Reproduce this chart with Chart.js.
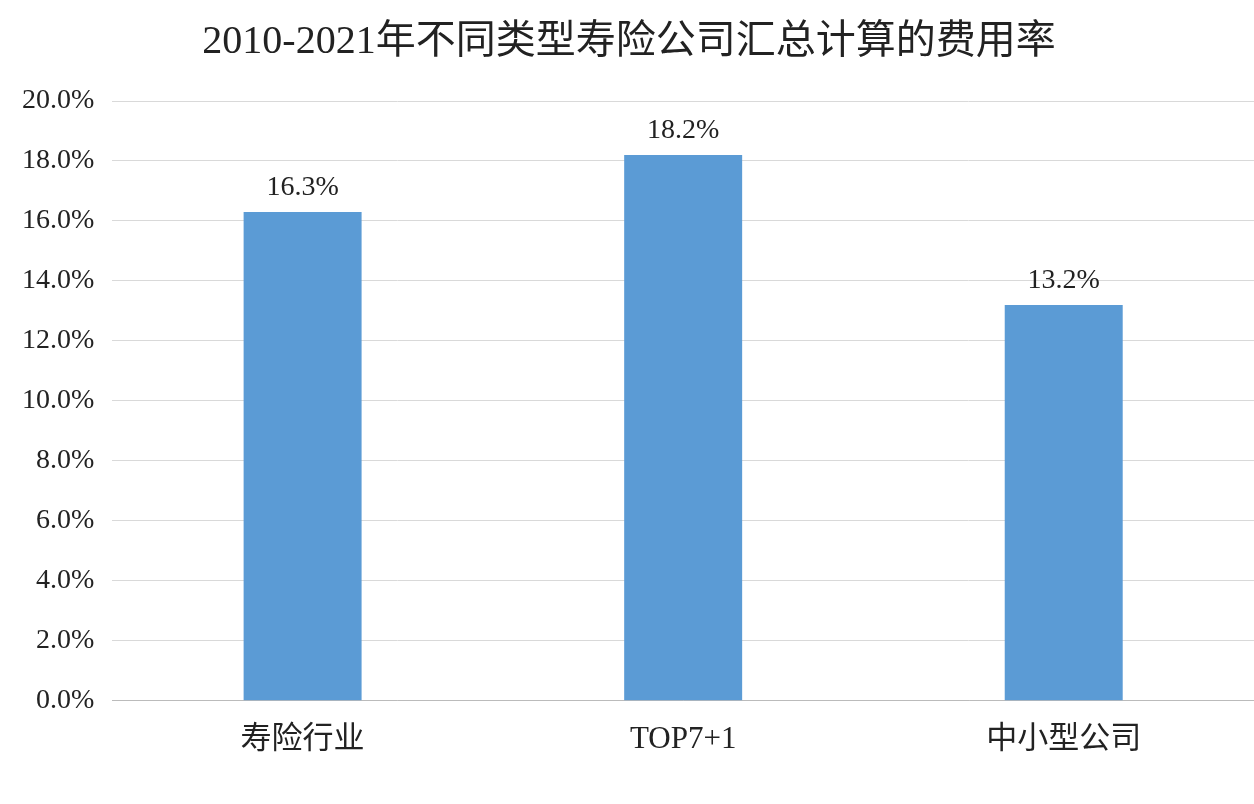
<!DOCTYPE html>
<html>
<head>
<meta charset="utf-8">
<script src="https://cdn.jsdelivr.net/npm/chart.js@4/dist/chart.umd.min.js"></script>
<style>
  html, body { margin: 0; padding: 0; background: #fff; }
  #wrap { width: 1254px; height: 804px; }
</style>
</head>
<body>
<div id="wrap"><canvas id="myChart1"></canvas></div>
<script>
let labels = ['寿险行业', 'TOP7+1', '中小型公司'];
let values = [16.3, 18.2, 13.2];
let barColor = '#5B9BD5';

// draws the value above each bar
const valueLabels = {
  id: 'valueLabels',
  afterDatasetsDraw(chart) {
    let ctx = chart.ctx;
    let meta = chart.getDatasetMeta(0);
    ctx.save();
    ctx.font = '28px "Liberation Serif"';
    ctx.fillStyle = '#222';
    ctx.textAlign = 'center';
    ctx.textBaseline = 'bottom';
    meta.data.forEach((bar, i) => {
      ctx.fillText(values[i].toFixed(1) + '%', bar.x, bar.y - 10);
    });
    ctx.restore();
  }
};

let ctx = document.getElementById('myChart1').getContext('2d');
let myChart1 = new Chart(ctx, {
  type: 'bar',
  data: {
    labels: labels,
    datasets: [{
      data: values,
      backgroundColor: barColor,
      categoryPercentage: 1,
      barPercentage: 0.31
    }]
  },
  options: {
    responsive: true,
    maintainAspectRatio: false,
    animation: false,
    layout: { padding: { top: 4, right: 0, left: 4, bottom: 34 } },
    plugins: {
      legend: { display: false },
      tooltip: { enabled: false },
      title: {
        display: true,
        text: '2010-2021年不同类型寿险公司汇总计算的费用率',
        color: '#222',
        font: { family: '"Liberation Serif", "Noto Sans CJK SC"', size: 40, weight: 'normal' },
        padding: { top: 14, bottom: 35 }
      }
    },
    scales: {
      x: {
        grid: { display: false },
        border: { color: '#bbb' },
        ticks: {
          color: '#222',
          padding: 12,
          font: { family: '"Liberation Serif", "Noto Sans CJK SC"', size: 31 }
        }
      },
      y: {
        min: 0,
        max: 20,
        border: { display: false },
        grid: { color: '#d9d9d9', drawTicks: false },
        ticks: {
          stepSize: 2,
          color: '#222',
          padding: 18,
          font: { family: '"Liberation Serif"', size: 28 },
          callback: (v) => v.toFixed(1) + '%'
        }
      }
    }
  },
  plugins: [valueLabels]
});
</script>
</body>
</html>
